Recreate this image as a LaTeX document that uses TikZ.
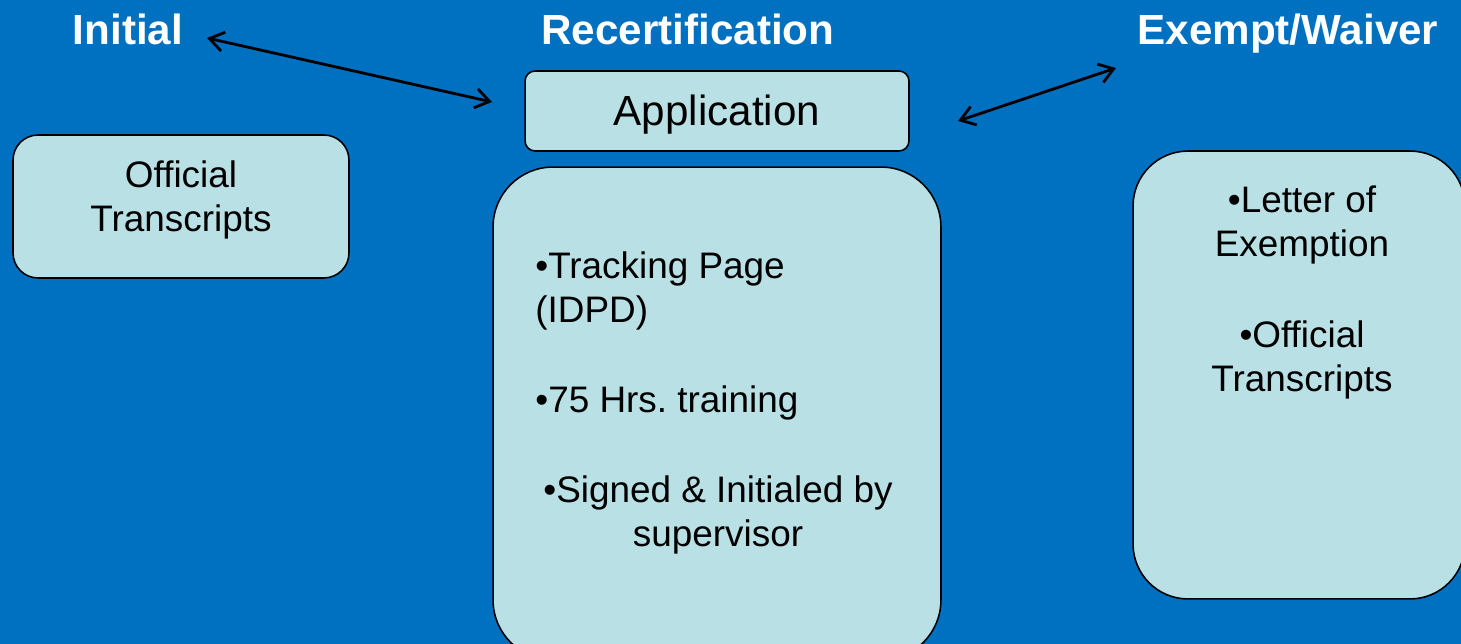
\documentclass[tikz,border=0pt]{standalone}
\usepackage{fontspec}
\setmainfont{Liberation Sans}
\usetikzlibrary{arrows.meta}
\definecolor{slideblue}{RGB}{0,112,192}
\definecolor{cardfill}{RGB}{185,224,228}

\begin{document}
\begin{tikzpicture}[x=0.02cm, y=-0.02cm,
	title/.style ={text = white, font=\fontsize{24}{29}\selectfont\bfseries, inner sep=0pt},
	card/.style ={draw = black, line width=0.9pt, fill = cardfill, inner sep=0pt},
	item/.style ={text = black, font=\fontsize{21}{25.5}\selectfont, inner sep=0pt},
	link/.style ={{Straight Barb[length=8pt,width=11pt]}-{Straight Barb[length=8pt,width=11pt]}, line width=1.6pt, black}]
	\useasboundingbox (0,0) rectangle (1461,644);
	\fill[slideblue] (0,0) rectangle (1461,644);

	% column titles
	\node[title, anchor=base] (initial) at (128,45) {Initial};
	\node[title, anchor=base] (recert) at (688,45) {Recertification};
	\node[title, anchor=base] (exempt) at (1288,45) {Exempt/Waiver};

	% boxes
	\node[card, rounded corners=0.5cm, minimum width=6.72cm, minimum height=2.86cm] (transbox) at (181,206.5) {};
	\node[card, rounded corners=0.2cm, minimum width=7.68cm, minimum height=1.6cm] (app) at (717,111) {};
	\node[card, rounded corners=1.2cm, minimum width=8.96cm, minimum height=9.86cm] (recbox) at (717,413.5) {};
	\node[card, rounded corners=1.1cm, minimum width=6.64cm, minimum height=8.96cm] (exbox) at (1299,375) {};

	% box texts (base = last line)
	\node[item, anchor=base, font=\fontsize{24}{29}\selectfont] (apptext) at (717,126) {Application};
	\node[item, align=center, anchor=base] (official) at (181,232) {Official\\Transcripts};
	\node[item, align=left, anchor=base west] (track) at (535,323) {•Tracking Page\\(IDPD)};
	\node[item, anchor=base west] (hours) at (535,413) {•75 Hrs.\ training};
	\node[item, align=center, anchor=base] (signed) at (718,547) {•Signed \& Initialed by\\supervisor};
	\node[item, align=center, anchor=base] (letter) at (1302,257) {•Letter of\\Exemption};
	\node[item, align=center, anchor=base] (extrans) at (1302,392) {•Official\\Transcripts};

	% connectors
	\coordinate (initTip) at (207,38);
	\coordinate (appLeft) at (492,102);
	\coordinate (appRight) at (958,121);
	\coordinate (exTip) at (1116,68);
	\draw[link] (initTip) -- (appLeft);
	\draw[link] (appRight) -- (exTip);
\end{tikzpicture}
\end{document}
